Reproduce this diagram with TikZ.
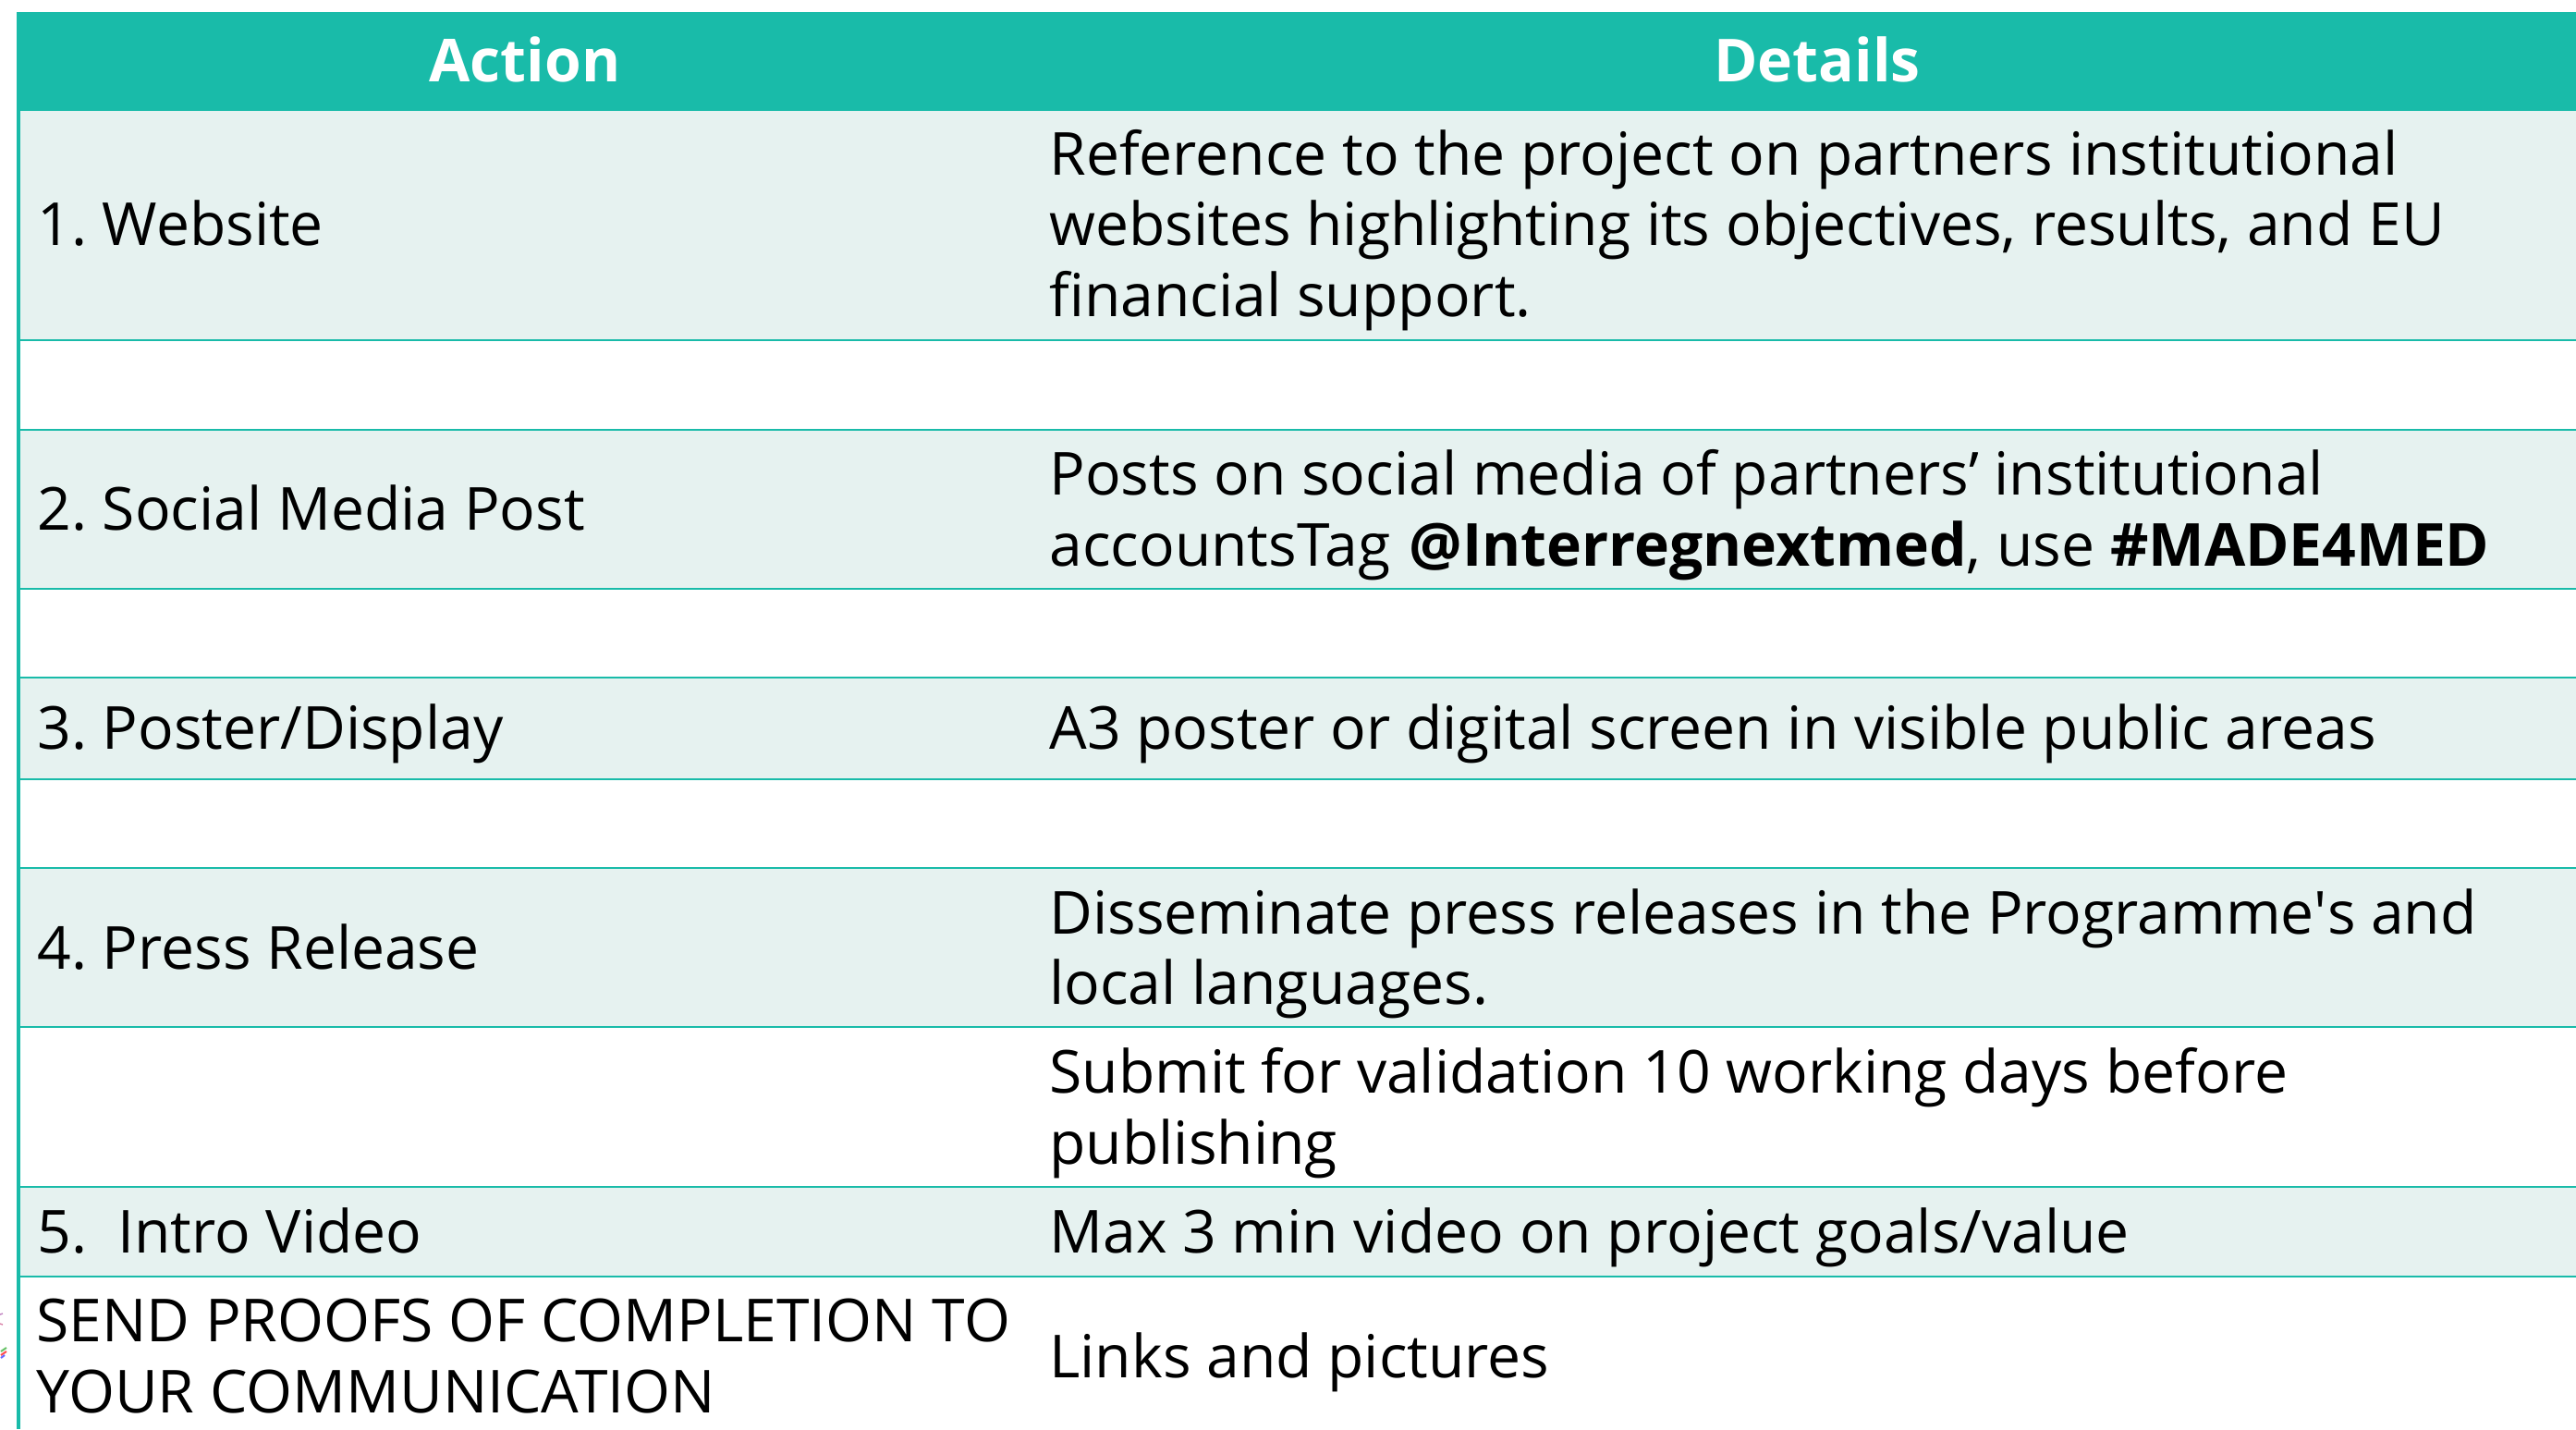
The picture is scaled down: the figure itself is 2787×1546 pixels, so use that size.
\documentclass[tikz,border=0pt]{standalone}
\usepackage{fontspec}
\setmainfont{Open Sans}
\newfontfamily\plainapos{Open Sans}
\frenchspacing
\definecolor{teal}{HTML}{19BBA9}
\definecolor{pale}{HTML}{E6F2F0}
\tikzset{
  x=0.5pt,y=-0.5pt,
  rule/.style={draw=teal,line width=1.4pt},
  siderule/.style={draw=teal,line width=1.6pt},
  band/.style={fill=pale,draw=none},
  head/.style={fill=teal,draw=none},
  headtext/.style={text=white,font=\fontsize{32.1}{38.3}\selectfont\bfseries,anchor=base,inner sep=0pt},
  cell/.style={text=black,font=\fontsize{32.1}{38.3}\selectfont,anchor=west,align=left,inner sep=0pt},
}
\begin{document}
\begin{tikzpicture}
\useasboundingbox (0,0) rectangle (2787,1546);
\fill[white] (0,0) rectangle (2787,1546);
\fill[head] (20,13) rectangle (2787,120);
\foreach \a/\b in {120/368,465/637,733/843,939/1111,1284/1381}{\fill[band] (20,\a) rectangle (2787,\b);}
\foreach \y in {368,465,637,733,843,939,1111,1284,1381}{\draw[rule] (20,\y) -- (2787,\y);}
\draw[siderule] (20,13) -- (20,1546);
\draw[line width=1pt,green!60!black!60] (1,1462) -- (7,1458);
\draw[line width=1pt,red!70] (1,1466) -- (7,1462);
\draw[line width=1pt,blue!60] (1,1469) -- (5,1466);
\draw[line width=0.7pt,violet!50] (0,1422) -- (3,1421);
\draw[line width=0.7pt,red!40!violet!50] (0,1432) -- (3,1433);
\node[headtext] (hA) at (568,89) {Action};
\node[headtext] (hD) at (1966,89) {Details};
\node[cell] (a1) at (40,242) {1. Website};
\node[cell] (d1) at (1135,249) {Reference to the project on partners institutional\\websites highlighting its objectives, results, and EU\\financial support.};
\node[cell] (a2) at (40,550) {2. Social Media Post};
\node[cell] (d2) at (1135,557) {Posts on social media of partners’ institutional\\accountsTag\kern1.7pt{} \textbf{@Interregnextmed}, use \textbf{\#MADE4MED}};
\node[cell] (a3) at (40,794) {3. Poster/Display};
\node[cell] (d3) at (1135,794) {A3 poster or digital screen in visible public areas};
\node[cell] (a4) at (40,1025) {4. Press Release};
\node[cell] (d4) at (1135,1032) {Disseminate press releases in the Programme{\plainapos '}s and\\local languages.};
\node[cell] (d4b) at (1135,1204) {Submit for validation 10 working days before\\publishing};
\node[cell] (a5) at (40,1332) {5.\ \ Intro Video};
\node[cell] (d5) at (1135,1339) {Max 3 min video on project goals/value};
\node[cell] (a6) at (39,1467) {SEND PROOFS OF COMPLETION TO\\YOUR COMMUNICATION};
\node[cell] (d6) at (1135,1474) {Links and pictures};
\end{tikzpicture}
\end{document}
